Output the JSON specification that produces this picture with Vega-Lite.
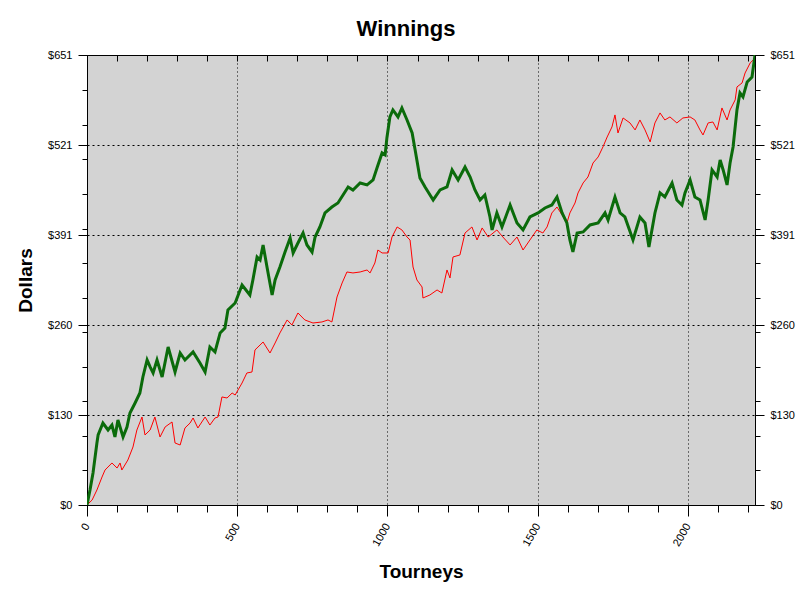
{
  "$schema": "https://vega.github.io/schema/vega-lite/v6.json",
  "width": 668,
  "height": 450,
  "autosize": {"type": "none"},
  "padding": {"left": 87, "top": 55, "right": 57, "bottom": 94},
  "background": "white",
  "title": {"text": "Winnings", "fontSize": 22, "fontWeight": "bold", "font": "Liberation Sans", "color": "black", "dx": -15, "offset": 8},
  "config": {
    "view": {"fill": "#d3d3d3", "stroke": "black", "strokeWidth": 1},
    "axis": {
      "labelFont": "Liberation Sans", "labelFontSize": 11, "labelColor": "black",
      "domainColor": "black", "tickColor": "black",
      "titleFont": "Liberation Sans", "titleFontSize": 19, "titleFontWeight": "bold", "titleColor": "black",
      "gridColor": "black", "labelOverlap": false, "labelBound": false
    }
  },
  "datasets": {
    "red": [
      {"t": 0, "v": 0}, {"t": 17, "v": 7.2}, {"t": 33, "v": 21.7}, {"t": 50, "v": 40.5}, {"t": 60, "v": 50.6},
      {"t": 83, "v": 60.8}, {"t": 100, "v": 53.5}, {"t": 110, "v": 60.8}, {"t": 116, "v": 50.6}, {"t": 136, "v": 65.1},
      {"t": 153, "v": 83.9}, {"t": 166, "v": 108.5}, {"t": 183, "v": 127.3}, {"t": 193, "v": 101.3}, {"t": 210, "v": 108.5},
      {"t": 226, "v": 127.3}, {"t": 243, "v": 98.4}, {"t": 260, "v": 112.9}, {"t": 283, "v": 120.1}, {"t": 293, "v": 89.7},
      {"t": 310, "v": 86.8}, {"t": 326, "v": 111.4}, {"t": 343, "v": 118.6}, {"t": 353, "v": 125.9}, {"t": 369, "v": 111.4},
      {"t": 393, "v": 127.3}, {"t": 409, "v": 115.7}, {"t": 426, "v": 125.9}, {"t": 436, "v": 127.3}, {"t": 449, "v": 156.3},
      {"t": 466, "v": 154.8}, {"t": 483, "v": 162}, {"t": 493, "v": 159.1}, {"t": 516, "v": 176.5}, {"t": 532, "v": 191},
      {"t": 549, "v": 192.4}, {"t": 559, "v": 224.3}, {"t": 586, "v": 235.8}, {"t": 609, "v": 219.9}, {"t": 626, "v": 234.4},
      {"t": 642, "v": 248.9}, {"t": 666, "v": 267.7}, {"t": 682, "v": 260.4}, {"t": 702, "v": 277.8}, {"t": 725, "v": 267.7},
      {"t": 752, "v": 263.3}, {"t": 782, "v": 264.8}, {"t": 802, "v": 267.7}, {"t": 815, "v": 264.8}, {"t": 832, "v": 300.9},
      {"t": 849, "v": 321.2}, {"t": 865, "v": 337.1}, {"t": 885, "v": 335.7}, {"t": 909, "v": 337.1}, {"t": 932, "v": 340},
      {"t": 942, "v": 335.7}, {"t": 958, "v": 350.1}, {"t": 968, "v": 368.9}, {"t": 982, "v": 364.6}, {"t": 1002, "v": 364.6},
      {"t": 1015, "v": 387.7}, {"t": 1032, "v": 402.2}, {"t": 1048, "v": 397.9}, {"t": 1065, "v": 387.7}, {"t": 1075, "v": 383.4},
      {"t": 1085, "v": 344.3}, {"t": 1098, "v": 325.5}, {"t": 1115, "v": 315.4}, {"t": 1118, "v": 299.5}, {"t": 1141, "v": 303.8},
      {"t": 1165, "v": 311.1}, {"t": 1181, "v": 306.7}, {"t": 1198, "v": 340}, {"t": 1208, "v": 328.4}, {"t": 1218, "v": 358.8},
      {"t": 1241, "v": 361.7}, {"t": 1258, "v": 393.5}, {"t": 1281, "v": 402.2}, {"t": 1298, "v": 383.4}, {"t": 1315, "v": 400.8},
      {"t": 1335, "v": 387.7}, {"t": 1364, "v": 397.9}, {"t": 1384, "v": 387.7}, {"t": 1408, "v": 376.2}, {"t": 1431, "v": 387.7},
      {"t": 1451, "v": 368.9}, {"t": 1474, "v": 383.4}, {"t": 1497, "v": 397.9}, {"t": 1517, "v": 393.5}, {"t": 1531, "v": 402.2},
      {"t": 1547, "v": 422.5}, {"t": 1564, "v": 431.1}, {"t": 1581, "v": 419.6}, {"t": 1597, "v": 408}, {"t": 1607, "v": 422.5},
      {"t": 1624, "v": 436.9}, {"t": 1634, "v": 451.4}, {"t": 1651, "v": 465.9}, {"t": 1667, "v": 474.5}, {"t": 1684, "v": 494.8},
      {"t": 1701, "v": 503.5}, {"t": 1717, "v": 518}, {"t": 1731, "v": 532.4}, {"t": 1747, "v": 546.9}, {"t": 1757, "v": 564.3},
      {"t": 1767, "v": 538.2}, {"t": 1784, "v": 559.9}, {"t": 1807, "v": 552.7}, {"t": 1824, "v": 542.6}, {"t": 1840, "v": 557},
      {"t": 1857, "v": 542.6}, {"t": 1874, "v": 525.2}, {"t": 1890, "v": 552.7}, {"t": 1907, "v": 567.2}, {"t": 1923, "v": 557},
      {"t": 1940, "v": 561.4}, {"t": 1963, "v": 552.7}, {"t": 1983, "v": 559.9}, {"t": 2007, "v": 561.4}, {"t": 2023, "v": 557},
      {"t": 2040, "v": 542.6}, {"t": 2050, "v": 535.3}, {"t": 2067, "v": 552.7}, {"t": 2083, "v": 554.1}, {"t": 2097, "v": 542.6},
      {"t": 2113, "v": 574.4}, {"t": 2130, "v": 557}, {"t": 2140, "v": 571.5}, {"t": 2157, "v": 586}, {"t": 2163, "v": 604.8},
      {"t": 2180, "v": 610.6}, {"t": 2190, "v": 625}, {"t": 2207, "v": 639.5}, {"t": 2217, "v": 643.8}, {"t": 2223, "v": 646.7}
    ],
    "green": [
      {"t": 0, "v": 0}, {"t": 10, "v": 21.7}, {"t": 20, "v": 46.3}, {"t": 33, "v": 89.7}, {"t": 37, "v": 101.3},
      {"t": 53, "v": 118.6}, {"t": 70, "v": 108.5}, {"t": 83, "v": 115.7}, {"t": 93, "v": 98.4}, {"t": 103, "v": 123},
      {"t": 120, "v": 98.4}, {"t": 133, "v": 112.9}, {"t": 143, "v": 133.1}, {"t": 160, "v": 147.6}, {"t": 176, "v": 162},
      {"t": 186, "v": 185.2}, {"t": 200, "v": 209.8}, {"t": 210, "v": 199.7}, {"t": 220, "v": 191}, {"t": 233, "v": 209.8},
      {"t": 250, "v": 185.2}, {"t": 270, "v": 228.6}, {"t": 293, "v": 192.4}, {"t": 310, "v": 219.9}, {"t": 326, "v": 209.8},
      {"t": 353, "v": 221.4}, {"t": 376, "v": 205.4}, {"t": 393, "v": 192.4}, {"t": 409, "v": 228.6}, {"t": 426, "v": 221.4},
      {"t": 443, "v": 248.9}, {"t": 459, "v": 256.1}, {"t": 469, "v": 282.1}, {"t": 493, "v": 292.3}, {"t": 516, "v": 318.3},
      {"t": 542, "v": 303.8}, {"t": 552, "v": 325.5}, {"t": 566, "v": 358.8}, {"t": 576, "v": 354.5}, {"t": 586, "v": 376.2},
      {"t": 599, "v": 344.3}, {"t": 616, "v": 303.8}, {"t": 626, "v": 325.5}, {"t": 642, "v": 344.3}, {"t": 659, "v": 366},
      {"t": 676, "v": 386.3}, {"t": 686, "v": 364.6}, {"t": 702, "v": 379}, {"t": 719, "v": 393.5}, {"t": 732, "v": 376.2},
      {"t": 749, "v": 366}, {"t": 759, "v": 387.7}, {"t": 775, "v": 402.2}, {"t": 792, "v": 422.5}, {"t": 815, "v": 431.1},
      {"t": 835, "v": 436.9}, {"t": 852, "v": 448.5}, {"t": 869, "v": 460.1}, {"t": 885, "v": 455.7}, {"t": 909, "v": 465.9},
      {"t": 932, "v": 463}, {"t": 952, "v": 470.2}, {"t": 965, "v": 487.6}, {"t": 982, "v": 509.3}, {"t": 992, "v": 506.4},
      {"t": 998, "v": 531}, {"t": 1008, "v": 561.4}, {"t": 1018, "v": 571.5}, {"t": 1035, "v": 561.4}, {"t": 1048, "v": 574.4},
      {"t": 1065, "v": 557}, {"t": 1082, "v": 538.2}, {"t": 1092, "v": 513.6}, {"t": 1108, "v": 473.1}, {"t": 1125, "v": 460.1},
      {"t": 1152, "v": 441.3}, {"t": 1175, "v": 455.7}, {"t": 1198, "v": 460.1}, {"t": 1215, "v": 484.7}, {"t": 1235, "v": 470.2},
      {"t": 1258, "v": 489}, {"t": 1275, "v": 474.5}, {"t": 1291, "v": 455.7}, {"t": 1308, "v": 441.3}, {"t": 1324, "v": 448.5},
      {"t": 1341, "v": 416.7}, {"t": 1348, "v": 397.9}, {"t": 1364, "v": 422.5}, {"t": 1381, "v": 402.2}, {"t": 1408, "v": 434},
      {"t": 1431, "v": 408}, {"t": 1451, "v": 397.9}, {"t": 1474, "v": 416.7}, {"t": 1501, "v": 422.5}, {"t": 1524, "v": 429.7},
      {"t": 1547, "v": 434}, {"t": 1564, "v": 445.6}, {"t": 1581, "v": 422.5}, {"t": 1597, "v": 408}, {"t": 1607, "v": 383.4},
      {"t": 1617, "v": 366}, {"t": 1631, "v": 393.5}, {"t": 1651, "v": 395}, {"t": 1674, "v": 405.1}, {"t": 1701, "v": 408},
      {"t": 1724, "v": 422.5}, {"t": 1734, "v": 412.3}, {"t": 1757, "v": 445.6}, {"t": 1774, "v": 422.5}, {"t": 1790, "v": 416.7},
      {"t": 1817, "v": 383.4}, {"t": 1840, "v": 416.7}, {"t": 1857, "v": 408}, {"t": 1870, "v": 373.3}, {"t": 1890, "v": 422.5},
      {"t": 1907, "v": 451.4}, {"t": 1923, "v": 445.6}, {"t": 1947, "v": 465.9}, {"t": 1963, "v": 441.3}, {"t": 1980, "v": 434},
      {"t": 1990, "v": 451.4}, {"t": 2007, "v": 470.2}, {"t": 2023, "v": 445.6}, {"t": 2040, "v": 441.3}, {"t": 2057, "v": 412.3},
      {"t": 2067, "v": 441.3}, {"t": 2080, "v": 484.7}, {"t": 2097, "v": 474.5}, {"t": 2107, "v": 499.1}, {"t": 2117, "v": 484.7},
      {"t": 2130, "v": 463}, {"t": 2140, "v": 494.8}, {"t": 2150, "v": 518}, {"t": 2163, "v": 571.5}, {"t": 2173, "v": 596.1},
      {"t": 2183, "v": 590.3}, {"t": 2197, "v": 612}, {"t": 2213, "v": 619.2}, {"t": 2223, "v": 651}
    ]
  },
  "layer": [
    {
      "data": {"name": "red"},
      "mark": {"type": "line", "color": "#ff0000", "strokeWidth": 1, "clip": true},
      "encoding": {
        "x": {
          "field": "t", "type": "quantitative",
          "scale": {"domain": [0, 2223], "nice": false, "zero": false},
          "axis": {
            "orient": "bottom",
            "values": [0,100,200,300,400,500,600,700,800,900,1000,1100,1200,1300,1400,1500,1600,1700,1800,1900,2000,2100,2200],
            "labelExpr": "datum.value % 500 === 0 ? format(datum.value, 'd') : ''",
            "labelAngle": -60, "labelAlign": "right", "labelBaseline": "middle", "labelPadding": 8,
            "tickSize": {"condition": {"test": "datum.value % 500 === 0", "value": 11}, "value": 7},
            "grid": true, "gridDash": [1, 3],
            "gridOpacity": {"condition": {"test": "datum.value % 500 === 0 && datum.value > 0", "value": 1}, "value": 0},
            "title": "Tourneys", "titlePadding": 15
          }
        },
        "y": {
          "field": "v", "type": "quantitative",
          "scale": {"domain": [0, 651], "nice": false, "zero": true},
          "axis": {
            "orient": "left",
            "values": [0,50,100,130.2,150,200,250,260.4,300,350,390.6,400,450,500,520.8,550,600,651],
            "labelExpr": "(datum.value % 50 !== 0 || datum.value === 0) ? '$' + format(datum.value, '.0f') : ''",
            "labelPadding": 6,
            "tickSize": {"condition": {"test": "datum.value % 50 !== 0 || datum.value === 0", "value": 9}, "value": 5},
            "grid": true, "gridDash": [2, 3],
            "gridOpacity": {"condition": {"test": "datum.value % 50 !== 0 && datum.value < 651", "value": 1}, "value": 0},
            "title": "Dollars", "titlePadding": 12
          }
        }
      }
    },
    {
      "data": {"name": "green"},
      "mark": {"type": "line", "color": "#0b6b0b", "strokeWidth": 3, "clip": true},
      "encoding": {
        "x": {
          "field": "t", "type": "quantitative",
          "scale": {"domain": [0, 2223], "nice": false, "zero": false},
          "axis": {
            "orient": "top",
            "values": [100,200,300,400,500,600,700,800,900,1000,1100,1200,1300,1400,1500,1600,1700,1800,1900,2000,2100,2200],
            "labels": false, "tickSize": -6, "grid": false, "title": null
          }
        },
        "y": {
          "field": "v", "type": "quantitative",
          "scale": {"domain": [0, 651], "nice": false, "zero": true},
          "axis": {
            "orient": "right",
            "values": [0,50,100,130.2,150,200,250,260.4,300,350,390.6,400,450,500,520.8,550,600,651],
            "labelExpr": "(datum.value % 50 !== 0 || datum.value === 0) ? '$' + format(datum.value, '.0f') : ''",
            "labelPadding": 6,
            "tickSize": {"condition": {"test": "datum.value % 50 !== 0 || datum.value === 0", "value": 9}, "value": 5},
            "grid": false, "title": null
          }
        }
      }
    }
  ],
  "resolve": {"axis": {"x": "independent", "y": "independent"}}
}
